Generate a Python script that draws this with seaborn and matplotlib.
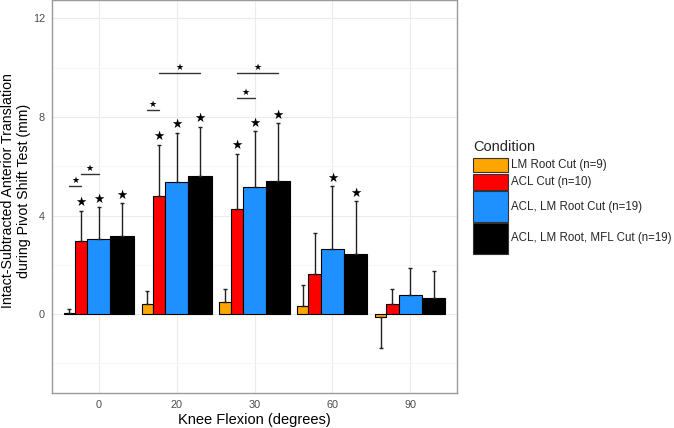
import numpy as np
import pandas as pd
import matplotlib
matplotlib.use('Agg')
import matplotlib.pyplot as plt
from matplotlib.patches import Rectangle
import seaborn as sns

# data
angles = ['0', '20', '30', '60', '90']
conditions = ['LM Root Cut (n=9)', 'ACL Cut (n=10)', 'ACL, LM Root Cut (n=19)',
              'ACL, LM Root, MFL Cut (n=19)']
n_specimens = [9, 10, 19, 19]
colors = ['#FFA500', '#FF0000', '#1E90FF', '#000000']

mean_lm = [0.04, 0.43, 0.49, 0.34, -0.10]
mean_acl = [2.95, 4.81, 4.28, 1.63, 0.42]
mean_acl_lm = [3.06, 5.35, 5.15, 2.63, 0.78]
mean_acl_lm_mfl = [3.16, 5.62, 5.39, 2.45, 0.65]

sd_lm = [0.16, 0.52, 0.55, 0.84, 1.27]
sd_acl = [1.24, 2.06, 2.24, 1.67, 0.62]
sd_acl_lm = [1.28, 2.02, 2.28, 2.56, 1.10]
sd_acl_lm_mfl = [1.34, 1.99, 2.36, 2.13, 1.10]

# significant vs intact (star above the error bar)
sig_lm = [0, 0, 0, 0, 0]
sig_acl = [1, 1, 1, 0, 0]
sig_acl_lm = [1, 1, 1, 1, 0]
sig_acl_lm_mfl = [1, 1, 1, 1, 0]

# pairwise comparisons: (angle, condition a, condition b, bracket height)
brackets = [('0', 0, 1, 5.20), ('0', 1, 2, 5.69),
            ('20', 0, 1, 8.29), ('20', 1, 3, 9.78),
            ('30', 1, 2, 8.79), ('30', 1, 3, 9.78)]

means = [mean_lm, mean_acl, mean_acl_lm, mean_acl_lm_mfl]
sds = [sd_lm, sd_acl, sd_acl_lm, sd_acl_lm_mfl]
sigs = [sig_lm, sig_acl, sig_acl_lm, sig_acl_lm_mfl]

df = pd.DataFrame({
    'angle': np.tile(angles, len(conditions)),
    'condition': np.repeat(conditions, len(angles)),
    'mean': np.concatenate(means),
})

sns.set_theme(style='whitegrid')
plt.rcParams['font.family'] = ['Liberation Sans', 'DejaVu Sans']

fig = plt.figure(figsize=(6.74, 4.28), dpi=100)
ax = fig.add_axes([52 / 674, 35 / 428, 405 / 674, 393 / 428])

sns.barplot(data=df, x='angle', y='mean', hue='condition', order=angles,
            hue_order=conditions, palette=colors, errorbar=None,
            edgecolor='black', linewidth=0.8, saturation=1, legend=False, ax=ax)

# bar widths proportional to number of specimens
total_w = 0.9
widths = [total_w * n / sum(n_specimens) for n in n_specimens]
offsets = np.cumsum([0] + widths[:-1]) - total_w / 2
centers = {}
for i, cont in enumerate(ax.containers):
    for j, rect in enumerate(cont):
        rect.set_x(j + offsets[i])
        rect.set_width(widths[i])
        rect.set_zorder(3)
    centers[i] = np.arange(len(angles)) + offsets[i] + widths[i] / 2

# one-sided error bars + stars
for i in range(len(conditions)):
    m = np.array(means[i])
    s = np.array(sds[i])
    lower = np.where(m < 0, s, 0)
    upper = np.where(m >= 0, s, 0)
    ax.errorbar(centers[i], m, yerr=[lower, upper], fmt='none', ecolor='#222222',
                elinewidth=1.0, capsize=1.3, capthick=1.0, zorder=4)
    for j in range(len(angles)):
        if sigs[i][j]:
            ax.text(centers[i][j], m[j] + s[j] + 0.06, '★', ha='center', va='bottom',
                    fontsize=9, color='black', family='DejaVu Sans', zorder=5)

for ang, a, b, yb in brackets:
    j = angles.index(ang)
    x0, x1 = centers[a][j], centers[b][j]
    ax.plot([x0, x1], [yb, yb], color='#333333', lw=1.0, zorder=4)
    ax.text((x0 + x1) / 2, yb + 0.03, '★', ha='center', va='bottom',
            fontsize=6.5, color='black', family='DejaVu Sans', zorder=5)

ax.set_xlim(-0.6, 4.6)
ax.set_ylim(-3.2, 12.75)
ax.set_yticks([0, 4, 8, 12])
ax.set_yticks([-2, 2, 6, 10], minor=True)
ax.grid(True, which='major', color='#EBEBEB', lw=0.8, zorder=0)
ax.grid(True, which='minor', axis='y', color='#F5F5F5', lw=0.6, zorder=0)
ax.set_axisbelow(True)
for sp in ax.spines.values():
    sp.set_visible(True)
    sp.set_color('#9A9A9A')
    sp.set_linewidth(1.0)
ax.tick_params(axis='both', which='major', length=3, width=0.8, color='#333333',
               labelsize=7.8, labelcolor='#4D4D4D', pad=2)
ax.tick_params(axis='y', which='minor', length=0)

ax.set_xlabel('Knee Flexion (degrees)', fontsize=10.5, color='black', labelpad=2)
ax.set_ylabel('Intact-Subtracted Anterior Translation\nduring Pivot Shift Test (mm)',
              fontsize=10.2, color='black', linespacing=1.1, va='center', ha='center')
ax.yaxis.set_label_coords(-36 / 405, (393 - 190.5) / 393)

# legend with key heights proportional to n
W, H = 674, 428
fig.text(473 / W, 1 - 147 / H, 'Condition', fontsize=10.5, ha='left', va='center')
ytop = 158.0
for i, cond in enumerate(conditions):
    hk = 1.6 * n_specimens[i]
    fig.add_artist(Rectangle((473 / W, 1 - (ytop + hk) / H), 35 / W, hk / H,
                             transform=fig.transFigure, facecolor=colors[i],
                             edgecolor='#333333', lw=0.8))
    fig.text(511 / W, 1 - (ytop + hk / 2) / H, cond, fontsize=8.3, ha='left', va='center')
    ytop += hk + 1.5

fig.savefig('out.png', dpi=100)
